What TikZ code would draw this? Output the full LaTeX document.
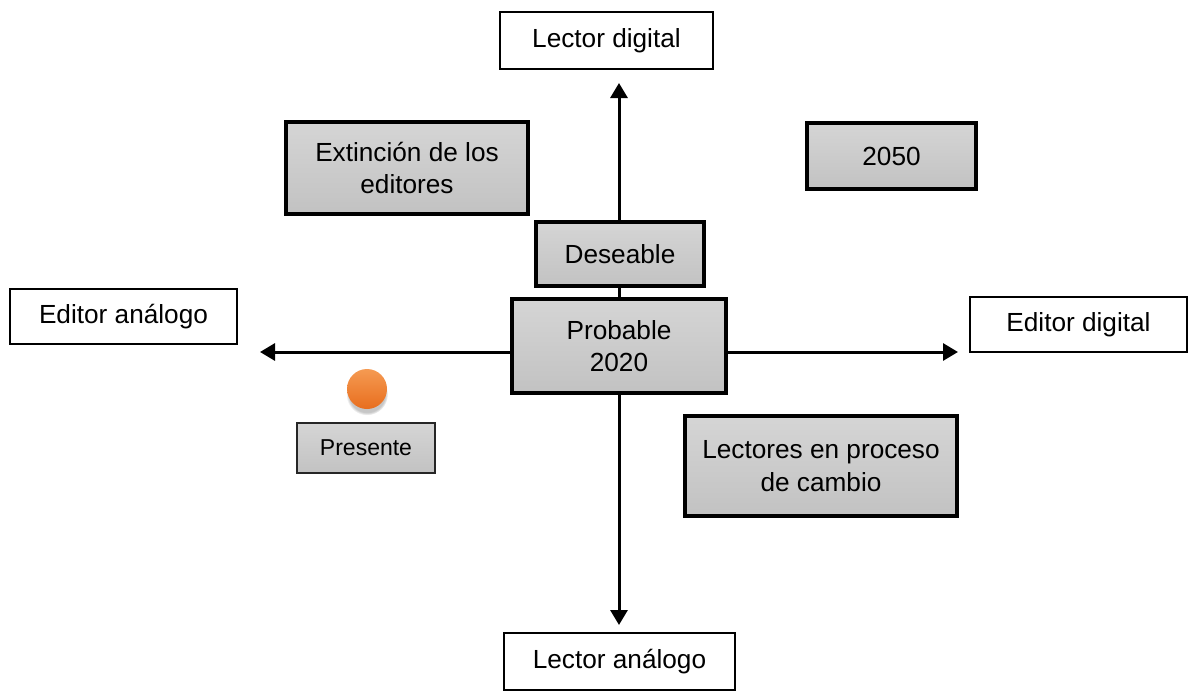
\documentclass[tikz,border=0pt]{standalone}
\usepackage{fontspec}
\setmainfont{Liberation Sans}
\usetikzlibrary{arrows.meta,backgrounds,shadows}
\definecolor{gtop}{HTML}{D5D5D5}
\definecolor{gbot}{HTML}{C2C2C2}
\definecolor{otop}{HTML}{F59A52}
\definecolor{obot}{HTML}{E86E1E}
\tikzset{
  whitebox/.style={draw=black, line width=1pt, fill=white, inner sep=0pt, align=center,
    font=\fontsize{13.1}{16.2}\selectfont},
  graybox/.style={draw=black, line width=1.6pt, top color=gtop, bottom color=gbot, inner sep=0pt,
    align=center, font=\fontsize{13.1}{16.2}\selectfont},
  smallgray/.style={draw=black!85, line width=0.7pt, top color=gtop, bottom color=gbot, inner sep=0pt,
    align=center, font=\fontsize{11.5}{14}\selectfont},
  axis/.style={line width=1.5pt, {Triangle[width=8.5pt,length=7.5pt]}-{Triangle[width=8.5pt,length=7.5pt]}},
}
\begin{document}
\begin{tikzpicture}[x=0.5pt,y=-0.5pt]
\useasboundingbox (0,0) rectangle (1189,692);
% outer label boxes
\node[whitebox, minimum width=106.5pt, minimum height=28.5pt] (ld) at (606.5,40.5) {Lector digital};
\node[whitebox, minimum width=115.5pt, minimum height=28.5pt] (la) at (619.5,661.5) {Lector análogo};
\node[whitebox, minimum width=113.5pt, minimum height=27.5pt] (ea) at (123.5,316.5) {Editor análogo};
\node[whitebox, minimum width=108.5pt, minimum height=27.5pt] (ed) at (1078.5,324.5) {Editor digital};
% gray boxes
\node[graybox, minimum width=121pt, minimum height=46pt] (ext) at (407,168) {Extinción de los\\editores};
\node[graybox, minimum width=84.5pt, minimum height=33pt] (y2050) at (891.5,156) {2050};
\node[graybox, minimum width=84pt, minimum height=32pt] (des) at (620,254) {Deseable};
\node[graybox, minimum width=107pt, minimum height=47pt] (prob) at (619,346) {Probable\\2020};
\node[graybox, minimum width=136pt, minimum height=50pt] (lect) at (821,466) {Lectores en proceso\\de cambio};
\node[smallgray, minimum width=69pt, minimum height=25pt] (pres) at (366,448) {Presente};
% orange dot
\node[circle, minimum size=20pt, inner sep=0pt, top color=otop, bottom color=obot,
  circular drop shadow={shadow xshift=0pt, shadow yshift=-2.5pt, shadow scale=1.05, opacity=0.45}] (dot) at (367,389) {};
% axes
\coordinate (ctop) at (619,83);
\coordinate (cbot) at (619,625);
\coordinate (cleft) at (260,352);
\coordinate (cright) at (958,352);
\begin{pgfonlayer}{background}
\draw[axis] (cbot) -- (ctop);
\draw[axis] (cleft) -- (cright);
\end{pgfonlayer}
\end{tikzpicture}
\end{document}
